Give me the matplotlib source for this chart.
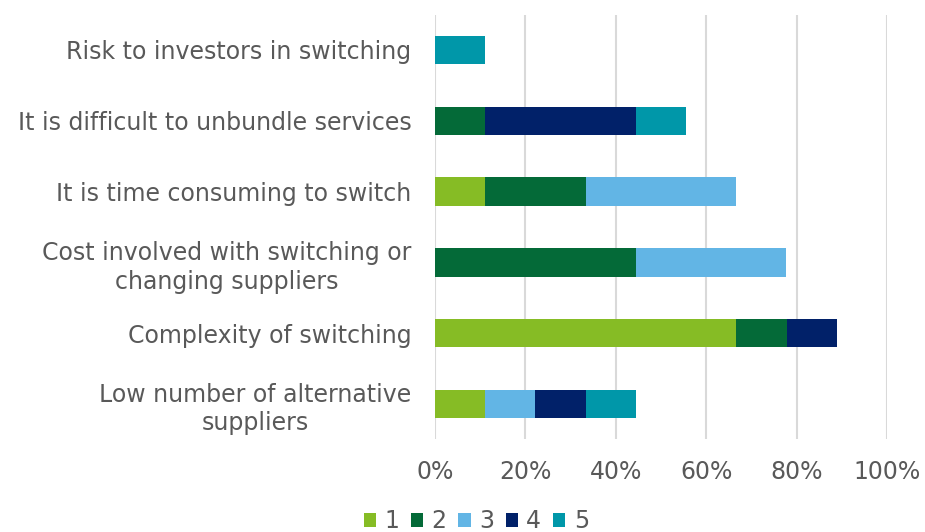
import os
import matplotlib
matplotlib.use("Agg")
import matplotlib.pyplot as plt
from matplotlib import font_manager as fm
import numpy as np

categories = [
    "Risk to investors in switching",
    "It is difficult to unbundle services",
    "It is time consuming to switch",
    "Cost involved with switching or\nchanging suppliers",
    "Complexity of switching",
    "Low number of alternative\nsuppliers",
]
series_names = ["1", "2", "3", "4", "5"]
s1 = [0.0, 0.0, 0.111, 0.0, 0.667, 0.111]
s2 = [0.0, 0.111, 0.222, 0.444, 0.111, 0.0]
s3 = [0.0, 0.0, 0.333, 0.333, 0.0, 0.111]
s4 = [0.0, 0.333, 0.0, 0.0, 0.111, 0.111]
s5 = [0.111, 0.111, 0.0, 0.0, 0.0, 0.111]
colors = ["#86BC25", "#046A38", "#62B5E5", "#012169", "#0097A9"]
xticks = [0, 0.2, 0.4, 0.6, 0.8, 1.0]
xticklabels = ["0%", "20%", "40%", "60%", "80%", "100%"]

text_color = "#595959"
fs = 17
dv_path = os.path.join(matplotlib.get_data_path(), "fonts", "ttf", "DejaVuSans.ttf")
fp = fm.FontProperties(fname=dv_path, size=fs)

fig = plt.figure(figsize=(9.25, 5.32), dpi=100)
ax = fig.add_axes([0.4703, 0.1739, 0.4886, 0.7988])

y = np.arange(len(categories))
left = np.zeros(len(categories))
for name, vals, c in zip(series_names, [s1, s2, s3, s4, s5], colors):
    vals = np.array(vals)
    ax.barh(y, vals, left=left, height=0.4, color=c, label=name, zorder=3)
    left += vals

ax.set_ylim(len(categories) - 0.5, -0.5)
ax.set_xlim(0, 1.0)
ax.set_yticks(y)
ax.set_yticklabels(categories, fontproperties=fp, color=text_color,
                   multialignment='center', linespacing=1.25)
ax.set_xticks(xticks)
ax.set_xticklabels(xticklabels, fontproperties=fp, color=text_color)
ax.tick_params(axis='both', length=0)
ax.tick_params(axis='y', pad=17)
ax.tick_params(axis='x', pad=15)
ax.grid(axis='x', color="#d9d9d9", linewidth=1.5, zorder=0)
for sp in ax.spines.values():
    sp.set_visible(False)

handles, labels = ax.get_legend_handles_labels()
leg = fig.legend(handles, labels, loc='center', bbox_to_anchor=(0.515, 0.02), ncol=5,
                 frameon=False, prop=fp, handlelength=0.52,
                 handleheight=0.52, handletextpad=0.35, columnspacing=0.5)
for t in leg.get_texts():
    t.set_color(text_color)

fig.savefig("out.png", dpi=100)
